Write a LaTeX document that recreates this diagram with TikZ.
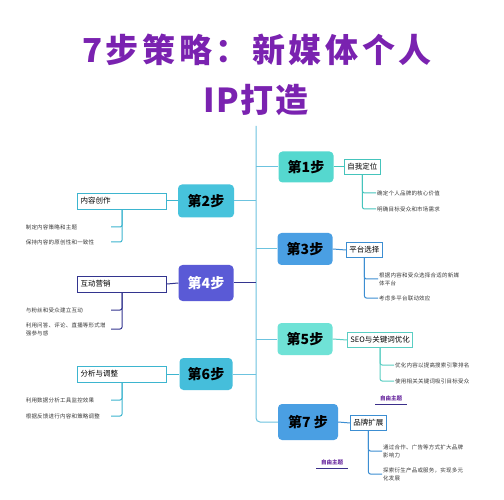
\documentclass[tikz,border=0pt]{standalone}
\usepackage{fontspec}
\setmainfont{Noto Sans CJK SC}
\usetikzlibrary{calc}
\definecolor{ttl}{HTML}{7A22B0}
\definecolor{cA}{HTML}{55D8CF}
\definecolor{cB}{HTML}{47C3DC}
\definecolor{cC}{HTML}{4A9FE3}
\definecolor{cD}{HTML}{5A5AD6}
\definecolor{cE}{HTML}{6FE2D6}
\definecolor{cF}{HTML}{45BEDB}
\definecolor{lA}{HTML}{45C4BC}
\definecolor{lB}{HTML}{3DB5CF}
\definecolor{lC}{HTML}{3C8ED2}
\definecolor{lD}{HTML}{33358F}
\definecolor{lE}{HTML}{5ACEC3}
\definecolor{trunkc}{HTML}{6CC3DF}
\definecolor{leafc}{HTML}{3A3A3A}
\definecolor{freec}{HTML}{6A2AA0}
\definecolor{ulc}{HTML}{3B2F8A}
\tikzset{
  stepbox/.style={rounded corners=4pt, minimum width=55pt, minimum height=32pt, inner sep=0pt,
    font=\fontsize{14}{16}\selectfont\bfseries, text=black},
  topicR/.style={draw, fill=white, line width=0.9pt, anchor=west, inner sep=3pt, minimum height=15pt,
    font=\fontsize{7.5}{9}\selectfont, text=black},
  topicL/.style={draw, fill=white, line width=0.9pt, anchor=east, inner sep=3pt, text width=83pt, align=left,
    minimum height=16pt, font=\fontsize{7.5}{9}\selectfont, text=black},
  leafR/.style={anchor=west, inner sep=1pt, align=left, font=\fontsize{5.5}{8}\selectfont\addfontfeatures{LetterSpace=4}, text=leafc},
  leafL/.style={anchor=east, inner sep=1pt, text width=84pt, align=left, font=\fontsize{5.5}{8}\selectfont\addfontfeatures{LetterSpace=4}, text=leafc},
  conn/.style={line width=1pt, rounded corners=2pt},
  freetopic/.style={inner sep=1pt, font=\fontsize{5.5}{7}\selectfont\bfseries, text=freec},
  titlefont/.style={text=ttl, inner sep=0pt, font=\fontsize{33}{40}\selectfont\bfseries\addfontfeatures{LetterSpace=11}},
  titlefontb/.style={text=ttl, inner sep=0pt, font=\fontsize{33}{40}\selectfont\bfseries\addfontfeatures{LetterSpace=4}}
}
\begin{document}
\begin{tikzpicture}[x=1pt,y=-1pt]
\useasboundingbox (0,0) rectangle (504,500);
\fill[white] (0,0) rectangle (504,500);
% title
\node[titlefont] (title1) at (257,50) {7步策略：新媒体个人};
\node[titlefontb] (title2) at (256,100) {IP打造};
\coordinate (top) at (256,126);
% steps
\node[stepbox, fill=cA, minimum height=31pt] (s1) at (306,167) {第1步};
\node[stepbox, fill=cB, minimum width=56pt, minimum height=33pt] (s2) at (206,201) {第2步};
\node[stepbox, fill=cC] (s3) at (305,249) {第3步};
\node[stepbox, fill=cD, minimum height=36pt, text=white] (s4) at (206,283) {第4步};
\node[stepbox, fill=cE] (s5) at (305,339) {第5步};
\node[stepbox, fill=cF, minimum width=53pt] (s6) at (206,374) {第6步};
\node[stepbox, fill=cC, minimum width=60pt, minimum height=36pt] (s7) at (308,422) {第7 步};
% trunk
\draw[trunkc, line width=1pt, rounded corners=4pt] (top) |- (s7.west);
\draw[trunkc, line width=1pt] (s1.west -| top) -- (s1.west);
\draw[trunkc, line width=1pt] (s2.east -| top) -- (s2.east);
\draw[trunkc, line width=1pt] (s3.west -| top) -- (s3.west);
\draw[lD, line width=1pt] (s4.east -| top) -- (s4.east);
\draw[trunkc, line width=1pt] (s5.west -| top) -- (s5.west);
\draw[trunkc, line width=1pt] (s6.east -| top) -- (s6.east);
% topics
\node[topicR, draw=lA] (t1) at (344,167) {自我定位};
\node[topicL, draw=lB] (t2) at (167,201) {内容创作};
\node[topicR, draw=lC] (t3) at (346,250) {平台选择};
\node[topicL, draw=lD] (t4) at (167,284) {互动营销};
\node[topicR, draw=lE] (t5) at (347,340) {SEO与关键词优化};
\node[topicL, draw=lB] (t6) at (167,374) {分析与调整};
\node[topicR, draw=lC] (t7) at (350,423) {品牌扩展};
\draw[conn, lA] (s1.east) -- (t1.west);
\draw[conn, lB] (s2.west) -- (t2.east);
\draw[conn, lC] (s3.east) -- (t3.west);
\draw[conn, lD] (s4.west) -- (t4.east);
\draw[conn, lE] (s5.east) -- (t5.west);
\draw[conn, lB] (s6.west) -- (t6.east);
\draw[conn, lC] (s7.east) -- (t7.west);
% leaves
\node[leafR] (l11) at (376,193) {确定个人品牌的核心价值};
\node[leafR] (l12) at (376,209) {明确目标受众和市场需求};
\node[leafL] (l21) at (111,227) {制定内容策略和主题};
\node[leafL] (l22) at (111,242) {保持内容的原创性和一致性};
\node[leafR] (l31) at (378,279) {根据内容和受众选择合适的新媒\\体平台};
\node[leafR] (l32) at (378,298) {考虑多平台联动效应};
\node[leafL] (l41) at (111,310) {与粉丝和受众建立互动};
\node[leafL] (l42) at (111,329) {利用问答、评论、直播等形式增\\强参与感};
\node[leafR] (l51) at (394,365) {优化内容以提高搜索引擎排名};
\node[leafR] (l52) at (394,381) {使用相关关键词吸引目标受众};
\node[leafL] (l61) at (111,400) {利用数据分析工具监控效果};
\node[leafL] (l62) at (111,416) {根据反馈进行内容和策略调整};
\node[leafR] (l71) at (382,451) {通过合作、广告等方式扩大品牌\\影响力};
\node[leafR] (l72) at (382,474) {探索衍生产品或服务，实现多元\\化发展};
\foreach \t/\l/\c in {t1/l11/lA, t1/l12/lA, t3/l31/lC, t3/l32/lC, t5/l51/lE, t5/l52/lE, t7/l71/lC, t7/l72/lC}
  \draw[conn, \c] (\t.south) |- (\l.west);
\foreach \t/\l/\c in {t2/l21/lB, t2/l22/lB, t4/l41/lD, t4/l42/lD, t6/l61/lB, t6/l62/lB}
  \draw[conn, \c] (\t.south) |- (\l.east);
% free topics
\node[freetopic] (f1) at (391,398) {自由主题};
\draw[ulc, line width=0.8pt] ($(f1.south)+(-16,3)$) -- ($(f1.south)+(16,3)$);
\node[freetopic] (f2) at (332,462) {自由主题};
\draw[ulc, line width=0.8pt] ($(f2.south)+(-16,3)$) -- ($(f2.south)+(16,3)$);
\end{tikzpicture}
\end{document}
